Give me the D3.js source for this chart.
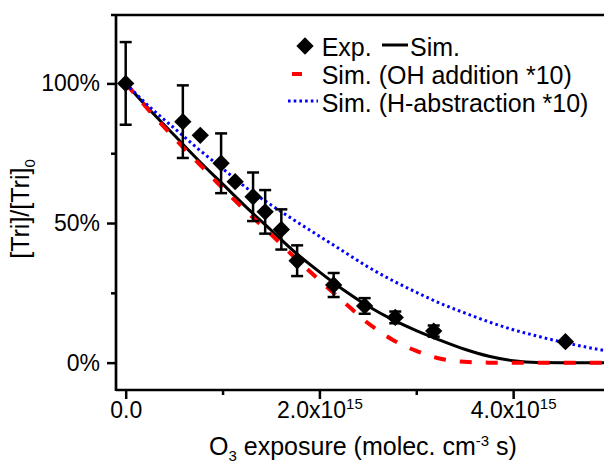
<!DOCTYPE html>
<html>
<head>
<meta charset="utf-8">
<script src="https://cdn.jsdelivr.net/npm/d3@7"></script>
<style>
  body { margin: 0; background: #fff; }
  svg { font-family: "Liberation Sans", Arial, sans-serif; }
</style>
</head>
<body>
<div id="chart"></div>
<script>
// Datos (x en unidades de 1e15 molec. cm-3 s, y en %)
const expX = [0, 0.59, 0.77, 0.985, 1.13, 1.315, 1.44, 1.607, 1.77, 2.147, 2.467, 2.783, 3.18, 4.54];
const expY = [100, 86.3, 81.4, 71.4, 64.8, 59.4, 54.0, 47.7, 36.5, 27.8, 20.3, 16.2, 11.3, 7.5];
const expErr = [14.8, 13, 0, 10.7, 0, 8.7, 7.8, 7.2, 5.5, 4.3, 2.8, 2.1, 2.0, 0];

const simX = [0, 0.25, 0.5, 0.75, 1.0, 1.25, 1.5, 1.75, 2.0, 2.25, 2.5, 2.75, 3.0, 3.25, 3.5, 3.75, 4.0, 4.25, 4.5, 4.75, 5.0];
const simAll = [100, 90.5, 81.5, 72.5, 64, 55.5, 47.5, 39.5, 32.5, 26, 20.3, 15.5, 11.5, 8.0, 4.8, 2.3, 0.7, 0.05, 0, 0, 0];
const simOH = [100, 90, 80.5, 71.5, 62.5, 54, 46, 37.5, 29.5, 21.8, 14.2, 8.3, 4.2, 1.4, 0.3, 0, 0, 0, 0, 0, 0];
const simH = [100, 91.5, 84, 76.5, 69.5, 62.5, 56.5, 50.8, 45.3, 39.8, 34.3, 29.5, 25.2, 21.2, 17.8, 14.6, 11.8, 9.5, 7.4, 5.6, 4.0];

const xMajor = [0, 2, 4];
const xMinor = [1, 3];
const yMajor = [0, 50, 100];
const yMinor = [25, 75];

const legendLabels = ["Exp.", "Sim.", "Sim. (OH addition *10)", "Sim. (H-abstraction *10)"];

// Configuración
const svgWidth = 604;
const svgHeight = 465;
const plot = { left: 116, right: 610, top: 15, bottom: 390 };

const svg = d3.select("#chart")
    .append("svg")
    .attr("width", svgWidth)
    .attr("height", svgHeight);

const x = d3.scaleLinear().domain([-0.1, 5.0]).range([plot.left, plot.right]);
const y = d3.scaleLinear().domain([-9.8, 124.5]).range([plot.bottom, plot.top]);

// Ejes
const xAxis = svg.append("g")
    .attr("transform", `translate(0, ${plot.bottom})`)
    .call(d3.axisBottom(x).tickValues(xMajor).tickSize(9).tickPadding(3)
        .tickFormat(d => d === 0 ? "0.0" : d.toFixed(1) + "x10"));
xAxis.select(".domain").remove();
xAxis.selectAll("line").attr("stroke", "#000").attr("stroke-width", 2.5);
xAxis.selectAll("text")
    .attr("font-size", 23)
    .attr("font-family", "Liberation Sans, Arial, sans-serif")
    .attr("fill", "#000")
    .each(function (d) {
        if (d === 0) return;
        d3.select(this).append("tspan").attr("font-size", 15).attr("dy", -9).text("15");
    });

svg.append("g")
    .attr("transform", `translate(0, ${plot.bottom})`)
    .call(d3.axisBottom(x).tickValues(xMinor).tickSize(5).tickFormat(""))
    .call(g => g.select(".domain").remove())
    .selectAll("line").attr("stroke", "#000").attr("stroke-width", 2.5);

const yAxis = svg.append("g")
    .attr("transform", `translate(${plot.left}, 0)`)
    .call(d3.axisLeft(y).tickValues(yMajor).tickSize(9).tickPadding(7).tickFormat(d => d + "%"));
yAxis.select(".domain").remove();
yAxis.selectAll("line").attr("stroke", "#000").attr("stroke-width", 2.5);
yAxis.selectAll("text")
    .attr("font-size", 23)
    .attr("font-family", "Liberation Sans, Arial, sans-serif")
    .attr("fill", "#000");

svg.append("g")
    .attr("transform", `translate(${plot.left}, 0)`)
    .call(d3.axisLeft(y).tickValues(yMinor).tickSize(5).tickFormat(""))
    .call(g => g.select(".domain").remove())
    .selectAll("line").attr("stroke", "#000").attr("stroke-width", 2.5);

// Marco
const frame = svg.append("g").attr("stroke", "#000").attr("stroke-width", 2.7);
frame.append("line").attr("x1", plot.left).attr("x2", plot.left).attr("y1", plot.top - 1).attr("y2", plot.bottom + 1);
frame.append("line").attr("x1", plot.left).attr("x2", svgWidth).attr("y1", plot.bottom).attr("y2", plot.bottom);
frame.append("line").attr("x1", plot.left - 5).attr("x2", svgWidth).attr("y1", plot.top).attr("y2", plot.top);

// Curvas simuladas
const line = (vals) => d3.line()
    .x((d, i) => x(simX[i]))
    .y(d => y(d))
    .curve(d3.curveMonotoneX)(vals);

svg.append("path").attr("d", line(simAll))
    .attr("fill", "none").attr("stroke", "#000").attr("stroke-width", 3);
svg.append("path").attr("d", line(simOH))
    .attr("fill", "none").attr("stroke", "#f00").attr("stroke-width", 4)
    .attr("stroke-dasharray", "12,14");
svg.append("path").attr("d", line(simH))
    .attr("fill", "none").attr("stroke", "#00f").attr("stroke-width", 3)
    .attr("stroke-dasharray", "2.6,3.1");

// Barras de error
const pts = expX.map((v, i) => ({ x: v, y: expY[i], e: expErr[i] }));
const eb = svg.append("g").attr("stroke", "#000").attr("stroke-width", 2.5);
pts.filter(d => d.e > 0).forEach(d => {
    const cx = x(d.x);
    eb.append("line").attr("x1", cx).attr("x2", cx).attr("y1", y(d.y - d.e)).attr("y2", y(d.y + d.e));
    eb.append("line").attr("x1", cx - 6).attr("x2", cx + 6).attr("y1", y(d.y + d.e)).attr("y2", y(d.y + d.e));
    eb.append("line").attr("x1", cx - 6).attr("x2", cx + 6).attr("y1", y(d.y - d.e)).attr("y2", y(d.y - d.e));
});

// Puntos experimentales
const diamond = d3.symbol(d3.symbolSquare, 150);
svg.append("g").selectAll("path")
    .data(pts)
    .enter().append("path")
    .attr("d", diamond)
    .attr("transform", d => `translate(${x(d.x)}, ${y(d.y)}) rotate(45)`)
    .attr("fill", "#000");

// Títulos de ejes
const xt = svg.append("text")
    .attr("x", 363).attr("y", 455)
    .attr("text-anchor", "middle")
    .attr("font-size", 25)
    .attr("fill", "#000");
xt.append("tspan").text("O");
xt.append("tspan").attr("font-size", 15).attr("dy", 6).text("3");
xt.append("tspan").attr("dy", -6).text(" exposure (molec. cm");
xt.append("tspan").attr("font-size", 15).attr("dy", -9).text("-3");
xt.append("tspan").attr("dy", 9).text(" s)");

const yt = svg.append("text")
    .attr("transform", "translate(29, 209) rotate(-90)")
    .attr("text-anchor", "middle")
    .attr("font-size", 25)
    .attr("fill", "#000");
yt.append("tspan").text("[Tri]/[Tri]");
yt.append("tspan").attr("font-size", 15).attr("dy", 6).text("0");

// Leyenda
const legend = svg.append("g")
    .attr("font-size", 25)
    .attr("fill", "#000");

legend.append("path")
    .attr("d", diamond)
    .attr("transform", "translate(305, 46) rotate(45)");
legend.append("text").attr("x", 321.7).attr("y", 56).text(legendLabels[0]);
legend.append("line")
    .attr("x1", 382).attr("x2", 408).attr("y1", 45).attr("y2", 45)
    .attr("stroke", "#000").attr("stroke-width", 3);
legend.append("text").attr("x", 410).attr("y", 56).text(legendLabels[1]);

legend.append("line")
    .attr("x1", 292).attr("x2", 302).attr("y1", 74).attr("y2", 74)
    .attr("stroke", "#f00").attr("stroke-width", 4);
legend.append("text").attr("x", 321.7).attr("y", 84).text(legendLabels[2]);

legend.append("line")
    .attr("x1", 288).attr("x2", 318).attr("y1", 101).attr("y2", 101)
    .attr("stroke", "#00f").attr("stroke-width", 3)
    .attr("stroke-dasharray", "2.6,3.1");
legend.append("text").attr("x", 321.7).attr("y", 112).text(legendLabels[3]);
</script>
</body>
</html>
